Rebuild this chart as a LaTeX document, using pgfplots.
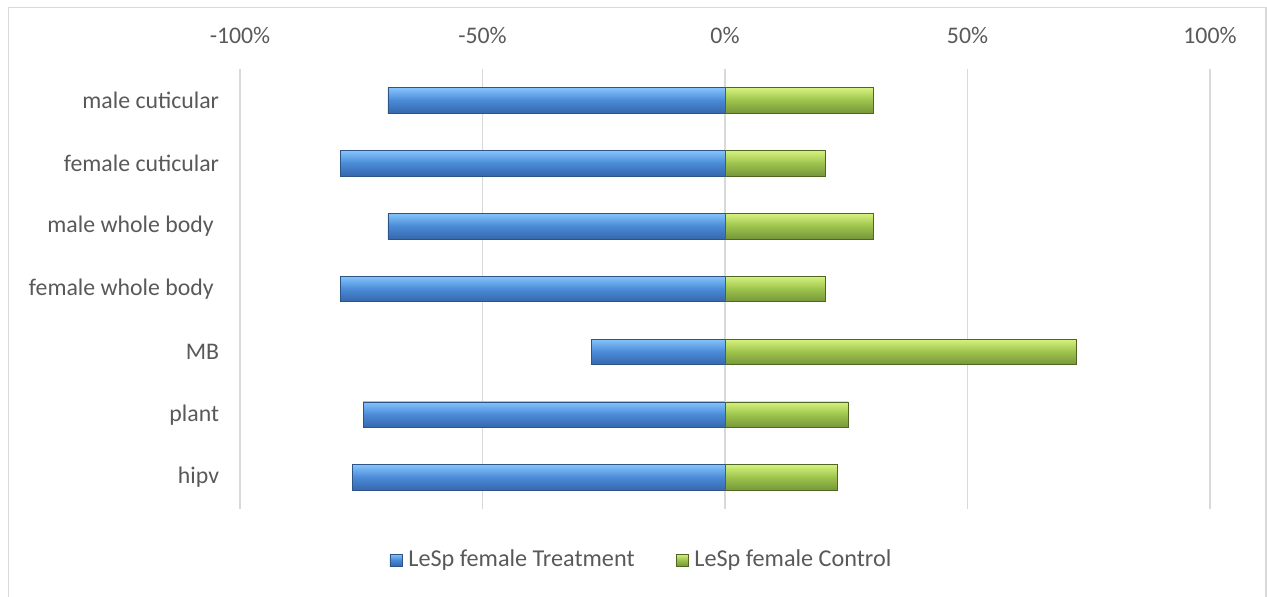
\documentclass[border=0pt]{standalone}
\usepackage{pgfplots}
\pgfplotsset{compat=1.18}
\usepackage{fontspec}
\setmainfont{Carlito}
\definecolor{txt}{HTML}{595959}
\definecolor{gridc}{HTML}{D9D9D9}
\definecolor{bT}{HTML}{86C4FC}
\definecolor{bM}{HTML}{4A8AD6}
\definecolor{bB}{HTML}{3667AC}
\definecolor{bE}{HTML}{2E5386}
\definecolor{gT}{HTML}{D6F27E}
\definecolor{gM}{HTML}{9CC34C}
\definecolor{gB}{HTML}{76963A}
\definecolor{gE}{HTML}{4F6624}
\pgfplotsset{
 tb/.style={bar shift=0pt, draw=bE, line width=0.4pt, top color=bT, bottom color=bB, middle color=bM},
 cb/.style={bar shift=0pt, draw=gE, line width=0.4pt, top color=gT, bottom color=gB, middle color=gM},
}
\begin{document}
\fontsize{11.9}{14}\selectfont
\begin{tikzpicture}
\begin{axis}[name=ax, scale only axis, width=485pt, height=220pt,
 xmin=-100, xmax=100, ymin=0.5, ymax=7.5, y dir=reverse,
 xbar, bar width=12.8pt,
 legend image code/.code={\draw[#1] (0pt,-3pt) rectangle (6pt,3pt);},
 xtick={-100,-50,0,50,100}, xticklabels={-100\%,-50\%,0\%,50\%,100\%},
 xticklabel pos=upper,
 xticklabel style={anchor=base, inner sep=0pt, yshift=12.5pt},
 ytick={1,2,3,4,5,6,7},
 yticklabels={male cuticular, female cuticular, {male whole body\kern2.7pt}, {female whole body\kern2.7pt}, MB, plant, hipv},
 yticklabel style={anchor=east, inner sep=0pt, xshift=-6pt},
 xmajorgrids, ymajorgrids=false, grid style={gridc, line width=0.75pt},
 axis line style={draw=none}, major tick style={draw=none},
 tick label style={text=txt, font=\fontsize{11.9}{14}\selectfont},
 legend style={at={(0.4144,-0.116)}, anchor=center, draw=none, fill=none, legend columns=2,
   font=\fontsize{12.1}{14}\selectfont, text=txt,
   nodes={inner sep=1.5pt},
   /tikz/every odd column/.append style={column sep=1.5pt},
   /tikz/every even column/.append style={column sep=19pt}},
]
\addplot[tb] coordinates {(-69.5,1)};
\addlegendentry{LeSp female Treatment}
\addplot[cb] coordinates {(30.5,1)};
\addlegendentry{LeSp female Control}
\addplot[tb, forget plot] coordinates {(-79.2,2)};
\addplot[tb, forget plot] coordinates {(-69.5,3)};
\addplot[tb, forget plot] coordinates {(-79.2,4)};
\addplot[tb, forget plot] coordinates {(-27.5,5)};
\addplot[tb, forget plot] coordinates {(-74.6,6)};
\addplot[tb, forget plot] coordinates {(-76.8,7)};
\addplot[cb, forget plot] coordinates {(20.8,2)};
\addplot[cb, forget plot] coordinates {(30.5,3)};
\addplot[cb, forget plot] coordinates {(20.8,4)};
\addplot[cb, forget plot] coordinates {(72.5,5)};
\addplot[cb, forget plot] coordinates {(25.4,6)};
\addplot[cb, forget plot] coordinates {(23.2,7)};
\end{axis}
\draw[gridc, line width=0.75pt] ([shift={(-115.75pt,-80pt)}]ax.south west) |- ([shift={(28pt,30.75pt)}]ax.north east) -- ([shift={(28pt,-320pt)}]ax.north east);
\pgfresetboundingbox
\path[use as bounding box] ([shift={(-120pt,-44pt)}]ax.south west) rectangle ([shift={(28.5pt,34.5pt)}]ax.north east);
\end{tikzpicture}
\end{document}
